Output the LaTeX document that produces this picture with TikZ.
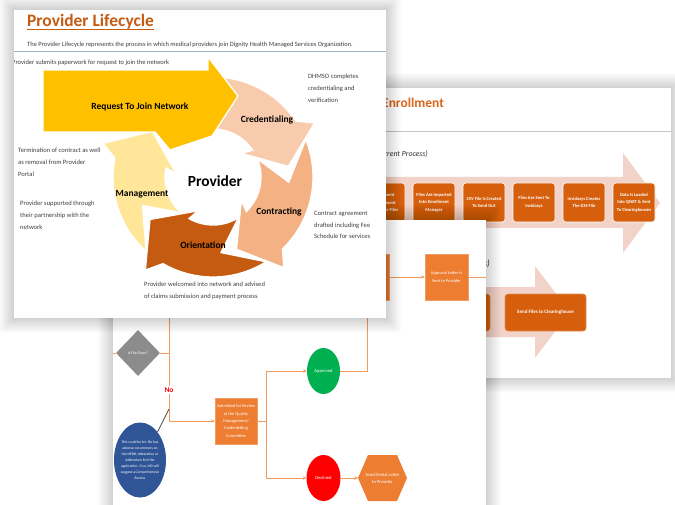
\documentclass[tikz,border=0pt]{standalone}
\usepackage{fontspec}
\setmainfont{Carlito}
\usetikzlibrary{arrows.meta,shapes.geometric}
\definecolor{ttl}{HTML}{C55A11}
\definecolor{yel}{HTML}{FFC000}
\definecolor{mgmt}{HTML}{FFE699}
\definecolor{cred}{HTML}{F8CBAD}
\definecolor{contr}{HTML}{F4B183}
\definecolor{orient}{HTML}{C55A11}
\definecolor{enbox}{HTML}{D55F0C}
\definecolor{entitle}{HTML}{D9661A}
\definecolor{fbox}{HTML}{ED7D31}
\definecolor{flin}{HTML}{F29B5E}
\definecolor{pinkarr}{HTML}{F2D3C9}
\definecolor{hdrline}{HTML}{9DB3C8}
\definecolor{grn}{HTML}{00B050}
\definecolor{blu}{HTML}{2F5597}
\definecolor{dia}{HTML}{8C8C8C}
\definecolor{sidegray}{HTML}{404040}
\tikzset{
  shadowlayer/.style={fill=black, opacity=0.011},
  sidetxt/.style={font=\fontsize{6.6}{11.8}\selectfont, align=left, anchor=north west, inner sep=0pt, text=sidegray},
  cyclbl/.style={font=\fontsize{9.5}{11}\selectfont\bfseries, inner sep=0pt, text=black},
  cycpart/.style={draw=white, line width=1.3bp},
  enb/.style={fill=enbox, draw=white, line width=0.6bp, rounded corners=3bp, minimum width=42bp, minimum height=39bp, text=white, font=\fontsize{4.6}{7.6}\selectfont\bfseries, align=center, inner sep=0.5bp},
  enb2/.style={fill=enbox, draw=enbox!70!white, line width=0.6bp, rounded corners=3bp, minimum height=37bp, text=white, font=\fontsize{5}{6}\selectfont\bfseries, align=center, inner sep=1bp},
  fbx/.style={fill=fbox, draw=fbox!75!white, line width=0.6bp, text=white, font=\fontsize{4.4}{7.4}\selectfont, align=center, inner sep=0.5bp},
  fl/.style={draw=flin, line width=1bp},
  fa/.style={draw=flin, line width=1bp, -{Stealth[length=3.5bp,width=3.5bp]}},
  circnode/.style={ellipse, inner sep=0pt, text=white, font=\fontsize{4.6}{5}\selectfont},
}
\newcommand{\softshadow}[4]{%
  \foreach \d in {1,...,15} {\fill[shadowlayer] (#1-\d,#2-\d) rectangle (#3+\d,#4+\d);}
}
\newcommand{\cycarrow}[5]{% color, tail, base, tip, notch
  \fill[#1, cycpart] plot[domain=#2:#3, samples=30] (\x:100) -- (#3+6:115) -- (#4:76) -- (#3-6:37)
    -- plot[domain=#3:#2, samples=30] (\x:48) -- (#5:76) -- cycle;
}
\begin{document}
\begin{tikzpicture}[x=1bp,y=-1bp]
\useasboundingbox (0,0) rectangle (675,505);
\fill[white] (0,0) rectangle (675,505);

%% ================= card 2 : enrollment (back) =================
\softshadow{250}{88}{671}{378}
\fill[white] (250,88) rectangle (671,378);
\begin{scope}
\clip (250,88) rectangle (671,378);
\node[anchor=base west, inner sep=0pt, text=entitle, font=\fontsize{13.5}{15}\selectfont\bfseries] (entitle) at (382,108) {Enrollment};
\draw[gray!45, line width=1bp] (250,132) -- (671,132);
\node[anchor=base east, inner sep=0pt, text=black!80, font=\fontsize{7.8}{9}\selectfont\itshape] (cur) at (428,157) {(Current Process)};
\fill[pinkarr] (250,177) -- (623,177) -- (623,153) -- (660,203) -- (623,253) -- (623,228) -- (250,228) -- cycle;
\node[enb] (e1) at (384,202.5) {Enrollment\\Department\\Saves The Files};
\node[enb] (e2) at (434,202.5) {Files Are Imported\\Into Enrollment\\Manager};
\node[enb] (e3) at (484,202.5) {CSV File Is Created\\To Send Out};
\node[enb] (e4) at (534,202.5) {Files Are Sent To\\Invidasys};
\node[enb] (e5) at (584,202.5) {Invidasys Creates\\The 834 File};
\node[enb] (e6) at (634,202.5) {Data Is Loaded\\Into QNXT \& Sent\\To Clearinghouses};
\node[anchor=base east, inner sep=0pt, text=black!80, font=\fontsize{9}{10}\selectfont\itshape] (fut) at (490,267) {(Future Process)};
\fill[pinkarr] (250,287) -- (535,287) -- (535,266) -- (570,312) -- (535,358) -- (535,337) -- (250,337) -- cycle;
\node[enb2, minimum width=50bp] (f1) at (465,312.5) {Files};
\node[enb2, minimum width=81bp] (f2) at (545.5,312.5) {Send Files to Clearinghouse};
\end{scope}

%% ================= card 3 : flowchart (middle) =================
\softshadow{113}{220}{486}{540}
\fill[white] (113,220) rectangle (486,540);
\begin{scope}
\clip (113,220) rectangle (486,540);
\node[fbx, minimum width=44bp, minimum height=46bp] (prev) at (367,277) {};
\node[fbx, minimum width=43bp, minimum height=46bp] (apl) at (446.5,277) {Approval Letter is\\Sent to Provider};
\coordinate (aplout) at (495,277);
\draw[fa] (prev) -- (apl);
\draw[fl] (apl) -- (aplout);
\node[diamond, fill=dia, minimum width=44bp, minimum height=46bp, inner sep=0pt, text=white, font=\fontsize{3.9}{4}\selectfont] (dmd) at (138,353) {Is File Clean?};
\coordinate (inL) at (108,353);
\draw[fl] (inL) -- (dmd.west);
\coordinate (vtop) at (169,300);
\coordinate (vmid) at (169,353);
\coordinate (vcall) at (169,409);
\node[text=red, font=\fontsize{7.5}{8}\selectfont\bfseries, inner sep=1.5bp] (no) at (169,390) {No};
\draw[fl] (vtop) -- (no.north);
\draw[fl] (dmd.east) -- (vmid);
\node[fbx, minimum width=42bp, minimum height=46bp] (sub) at (236,421) {Submitted for Review\\at the Quality\\Management/\\Credentialing\\Committee};
\draw[fa] (no.south) |- (sub.west);
\node[ellipse, fill=blu, minimum width=52bp, minimum height=75bp, inner sep=-6bp, text=white, align=center, font=\fontsize{3.7}{6}\selectfont] (ell) at (140,460) {This could be b/c file has\\adverse occurrences on\\the NPDB, Attestation or\\Addendum B of the\\application. If so, MD will\\suggest a Comprehensive\\Review};
\draw[black!70, line width=0.7bp] (ell.58) -- (vcall);
\node[circnode, fill=grn, minimum width=33bp, minimum height=46bp] (app) at (323.5,371) {Approved};
\node[circnode, fill=red, minimum width=34bp, minimum height=46bp] (dec) at (323.5,478) {Declined};
\coordinate (br) at (266,421);
\draw[fl] (sub.east) -- (br);
\draw[fa] (br) |- (app.west);
\draw[fa] (br) |- (dec.west);
\draw[fl] (app.east) -| (prev.south);
\fill[fbox] (358,478) -- (368,455) -- (397,455) -- (407,478) -- (397,501) -- (368,501) -- cycle;
\node[text=white, minimum width=49bp, minimum height=46bp, inner sep=0pt, align=center, font=\fontsize{4.6}{7}\selectfont] (hex) at (382.5,478) {Send Denial Letter\\to Provider};
\draw[fa] (dec) -- (hex);
\end{scope}

%% ================= card 1 : provider lifecycle (front) =================
\softshadow{14}{10}{386}{318}
\fill[white] (14,10) rectangle (386,318);
\begin{scope}
\clip (14,10) rectangle (386,318);
\node[anchor=base west, inner sep=0pt, text=ttl, font=\fontsize{17.5}{20}\selectfont\bfseries] (title) at (27,27) {Provider Lifecycle};
\draw[ttl, line width=1.2bp] ([yshift=-2.2bp]title.base west) -- ([yshift=-2.2bp]title.base east);
\node[anchor=base west, inner sep=0pt, text=sidegray, font=\fontsize{6.5}{8}\selectfont] (sub1) at (27,47) {The Provider Lifecycle represents the process in which medical providers join Dignity Health Managed Services Organization.};
\draw[hdrline, line width=1bp] (14,52) -- (386,52);
\node[anchor=base west, inner sep=0pt, text=sidegray, font=\fontsize{6.5}{8}\selectfont] (req) at (12,64.5) {Provider submits paperwork for request to join the network};

\begin{scope}[shift={(213,177)}]
  \cycarrow{cred}{250}{326}{352}{276}
  \cycarrow{contr}{338}{406}{432}{364}
  \cycarrow{orient}{418}{480}{506}{444}
  \cycarrow{mgmt}{132}{191}{217}{158}
\end{scope}
\fill[yel, cycpart] (43,70) -- (208,70) -- (208,57) -- (238,96) -- (212,136) -- (170,150) -- (155,132) -- (43,132) -- cycle;

\node[cyclbl] (rq) at (140,107) {Request To Join Network};
\node[cyclbl] (cr) at (267,120) {Credentialing};
\node[cyclbl] (ct) at (279,212) {Contracting};
\node[cyclbl] (or) at (203,245) {Orientation};
\node[cyclbl] (mg) at (142,194) {Management};
\node[inner sep=0pt, font=\fontsize{15.5}{17}\selectfont\bfseries] (prov) at (215,181) {Provider};

\node[sidetxt] (t1) at (308,74) {DHMSO completes\\credentialing and\\verification};
\node[sidetxt] (t2) at (18,148) {Termination of contract as well\\as removal from Provider\\Portal};
\node[sidetxt] (t3) at (20,201) {Provider supported through\\their partnership with the\\network};
\node[sidetxt] (t4) at (314,211) {Contract agreement\\drafted including Fee\\Schedule for services};
\node[sidetxt] (t5) at (144,282) {Provider welcomed into network and advised\\of claims submission and payment process};
\end{scope}
\end{tikzpicture}
\end{document}
